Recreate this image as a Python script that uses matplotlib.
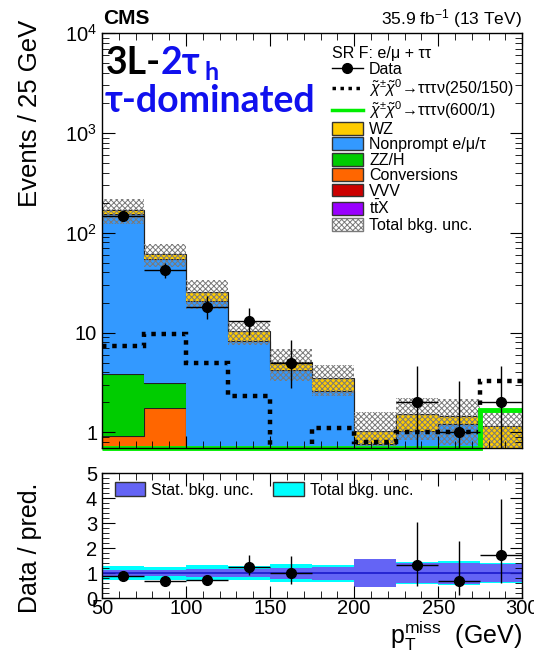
import numpy as np
import matplotlib
matplotlib.use("Agg")
import matplotlib.pyplot as plt
from matplotlib.patches import Patch
from matplotlib.lines import Line2D
from matplotlib.ticker import MultipleLocator, LogLocator, NullFormatter

plt.rcParams['font.family'] = ['Liberation Sans', 'DejaVu Sans']
plt.rcParams['mathtext.fontset'] = 'custom'
plt.rcParams['mathtext.rm'] = 'Liberation Sans'
plt.rcParams['mathtext.it'] = 'Liberation Sans:italic'
plt.rcParams['mathtext.bf'] = 'Liberation Sans:bold'
plt.rcParams['hatch.linewidth'] = 0.7

# binning in pT miss (GeV)
edges = np.arange(50, 301, 25)
centers = edges[:-1] + 12.5

# background stack, bottom to top
ttx = np.array([0.01, 0.01, 0.01, 0.0, 0.0, 0.0, 0.0, 0.0, 0.0, 0.0])
vvv = np.array([0.01, 0.01, 0.0, 0.0, 0.0, 0.0, 0.0, 0.0, 0.0, 0.0])
conversions = np.array([0.9, 1.75, 0, 0, 0, 0, 0, 0, 0, 0])
zzh = np.array([2.9, 1.35, 0, 0, 0, 0, 0, 0, 0, 0])
nonprompt = np.array([151, 51.5, 20.6, 8.2, 4.2, 2.6, 0.76, 1.03, 1.22, 0.0])
wz = np.array([14, 7.1, 4.7, 2.1, 0.85, 0.93, 0.27, 0.48, 0.23, 1.16])

# observed data
data = np.array([147, 42, 18, 13, 5, 0, 0, 2, 1, 2])
data_up = np.array([12.6, 7.5, 5.3, 4.7, 3.4, 0, 0, 2.6, 2.3, 2.6])
data_down = np.array([12.1, 6.5, 4.2, 3.6, 2.2, 0, 0, 1.3, 0.8, 1.3])

# signals
sig_250_150 = np.array([7.3, 9.7, 5.0, 2.3, 0, 1.1, 0.8, 1.0, 1.0, 3.3])
sig_600_1 = np.array([0, 0, 0, 0, 0, 0, 0, 0, 0, 1.67])

# relative uncertainties on the background
unc_total = np.array([0.28, 0.26, 0.32, 0.27, 0.35, 0.34, 0.57, 0.45, 0.48, 0.40])
unc_stat = np.array([0.13, 0.12, 0.15, 0.17, 0.22, 0.26, 0.55, 0.41, 0.42, 0.37])

ymin, ymax = 0.7, 1e4

fig = plt.figure(figsize=(5.34, 6.5), dpi=100)
ax = fig.add_axes([0.191, 0.311, 0.787, 0.638])
ax2 = fig.add_axes([0.191, 0.080, 0.787, 0.192])

layers = [(ttx, '#9900ff'), (vvv, '#cc0000'), (conversions, '#ff6600'),
          (zzh, '#00cc00'), (nonprompt, '#3399ff'), (wz, '#ffcc00')]
bottom = np.full(len(centers), 1e-3)
for vals, col in layers:
    top = bottom + vals
    ax.stairs(top, edges, baseline=bottom, fill=True, color=col, lw=0)
    ax.stairs(top, edges, baseline=None, color='#222222', lw=0.8)
    bottom = top
total = bottom

# total bkg uncertainty
ax.stairs(total * (1 + unc_total), edges, baseline=total * (1 - unc_total),
          fill=True, facecolor='none', edgecolor='#7a7a7a', hatch='xxxxxx', lw=0)

# signals
ax.stairs(np.clip(sig_250_150, 0.5, None), edges, baseline=None, color='k',
          ls=(0, (1, 1.3)), lw=3.2)
ax.stairs(np.clip(sig_600_1, ymin, None), edges, baseline=None, color='#00ee00',
          lw=3.5, clip_on=False)

m = data > 0
ax.errorbar(centers[m], data[m], yerr=[data_down[m], data_up[m]], xerr=12.5,
            fmt='o', color='k', ms=7, lw=1, capsize=0, zorder=5)

ax.set_yscale('log')
ax.set_ylim(ymin, ymax)
ax.set_xlim(50, 300)
ax.set_yticks([1, 10, 100, 1000, 10000], ['1', '10', '$10^2$', '$10^3$', '$10^4$'])
ax.yaxis.set_minor_locator(LogLocator(base=10, subs=np.arange(2, 10)))
ax.yaxis.set_minor_formatter(NullFormatter())
ax.xaxis.set_major_locator(MultipleLocator(50))
ax.xaxis.set_minor_locator(MultipleLocator(10))
ax.tick_params(axis='x', labelbottom=False)
for a in (ax, ax2):
    a.tick_params(which='both', direction='in', top=True, right=True, labelsize=14.5)
    a.tick_params(which='major', length=9)
    a.tick_params(which='minor', length=5)
    for s in a.spines.values():
        s.set_linewidth(1.0)

# legend
handles = [
    Line2D([], [], color='k', marker='o', ms=7, lw=1),
    Line2D([], [], color='k', ls=(0, (1, 1.3)), lw=2.5),
    Line2D([], [], color='#00ee00', lw=2.5),
    Patch(facecolor='#ffcc00', edgecolor='#333333'),
    Patch(facecolor='#3399ff', edgecolor='#333333'),
    Patch(facecolor='#00cc00', edgecolor='#333333'),
    Patch(facecolor='#ff6600', edgecolor='#333333'),
    Patch(facecolor='#cc0000', edgecolor='#333333'),
    Patch(facecolor='#9900ff', edgecolor='#333333'),
    Patch(facecolor='white', edgecolor='#7a7a7a', hatch='xxxxxx'),
]
labels = [
    'Data',
    r'$\tilde{\chi}^{\pm}\tilde{\chi}^{0}$→τττν(250/150)',
    r'$\tilde{\chi}^{\pm}\tilde{\chi}^{0}$→τττν(600/1)',
    'WZ',
    'Nonprompt e/μ/τ',
    'ZZ/H',
    'Conversions',
    'VVV',
    r't$\bar{\mathrm{t}}$X',
    'Total bkg. unc.',
]
leg = ax.legend(handles, labels, loc='upper left', bbox_to_anchor=(0.548, 0.968),
                frameon=False, fontsize=11.5, labelspacing=0.03, handlelength=1.9,
                handleheight=0.85, handletextpad=0.4, borderpad=0, borderaxespad=0,
                title='SR F: e/μ + ττ', title_fontsize=11.5, alignment='left')

# big labels
big = dict(family=['Lato', 'DejaVu Sans'], weight='bold', fontsize=27,
           transform=fig.transFigure, va='baseline')
fig.text(106 / 534, 1 - 74 / 650, '3L-', color='k', **big)
fig.text(161 / 534, 1 - 74 / 650, '2τ', color='#1010ee', **big)
fig.text(205 / 534, 1 - 80 / 650, 'h', color='#1010ee',
         **{**big, 'fontsize': 18})
fig.text(105 / 534, 1 - 112 / 650, 'τ-dominated', color='#1010ee', **big)

fig.text(103 / 534, 1 - 24 / 650, 'CMS', fontsize=15, weight='bold', va='baseline')
fig.text(522 / 534, 1 - 24 / 650, '35.9 fb$^{-1}$ (13 TeV)', fontsize=12.5,
         ha='right', va='baseline')
fig.text(30 / 534, 1 - 20 / 650, 'Events / 25 GeV', fontsize=18.5, rotation=90,
         ha='center', va='top')
fig.text(30 / 534, 1 - 548 / 650, 'Data / pred.', fontsize=18, rotation=90,
         ha='center', va='center')
fig.text(522 / 534, 1 - 636 / 650, r'$\mathrm{p}_{\mathrm{T}}^{\mathrm{miss}}$  (GeV)',
         fontsize=18, ha='right', va='center')

# ratio panel
ax2.stairs(1 + unc_total, edges, baseline=1 - unc_total, fill=True, color='#00ffff', lw=0)
ax2.stairs(1 + unc_stat, edges, baseline=1 - unc_stat, fill=True, color='#6464f5', lw=0)
ax2.axhline(1, color='#1a1acc', lw=1.2)
ratio = data / total
r_up = data_up / total
r_dn = data_down / total
ax2.errorbar(centers[m], ratio[m], yerr=[r_dn[m], r_up[m]], xerr=12.5,
             fmt='o', color='k', ms=7, lw=1, capsize=0, zorder=5)
ax2.set_xlim(50, 300)
ax2.set_ylim(0, 5)
ax2.xaxis.set_major_locator(MultipleLocator(50))
ax2.xaxis.set_minor_locator(MultipleLocator(10))
ax2.yaxis.set_major_locator(MultipleLocator(1))
ax2.yaxis.set_minor_locator(MultipleLocator(0.2))
ax2.tick_params(axis='x', pad=1)
ax2.legend([Patch(facecolor='#6464f5', edgecolor='#333333'),
            Patch(facecolor='#00ffff', edgecolor='#333333')],
           ['Stat. bkg. unc.', 'Total bkg. unc.'], ncol=2, loc='upper left',
           bbox_to_anchor=(0.03, 0.93), frameon=False, fontsize=11.5,
           handlelength=1.9, handleheight=1.0, handletextpad=0.4,
           columnspacing=1.2, borderpad=0, borderaxespad=0)

fig.savefig('out.png', dpi=100)
